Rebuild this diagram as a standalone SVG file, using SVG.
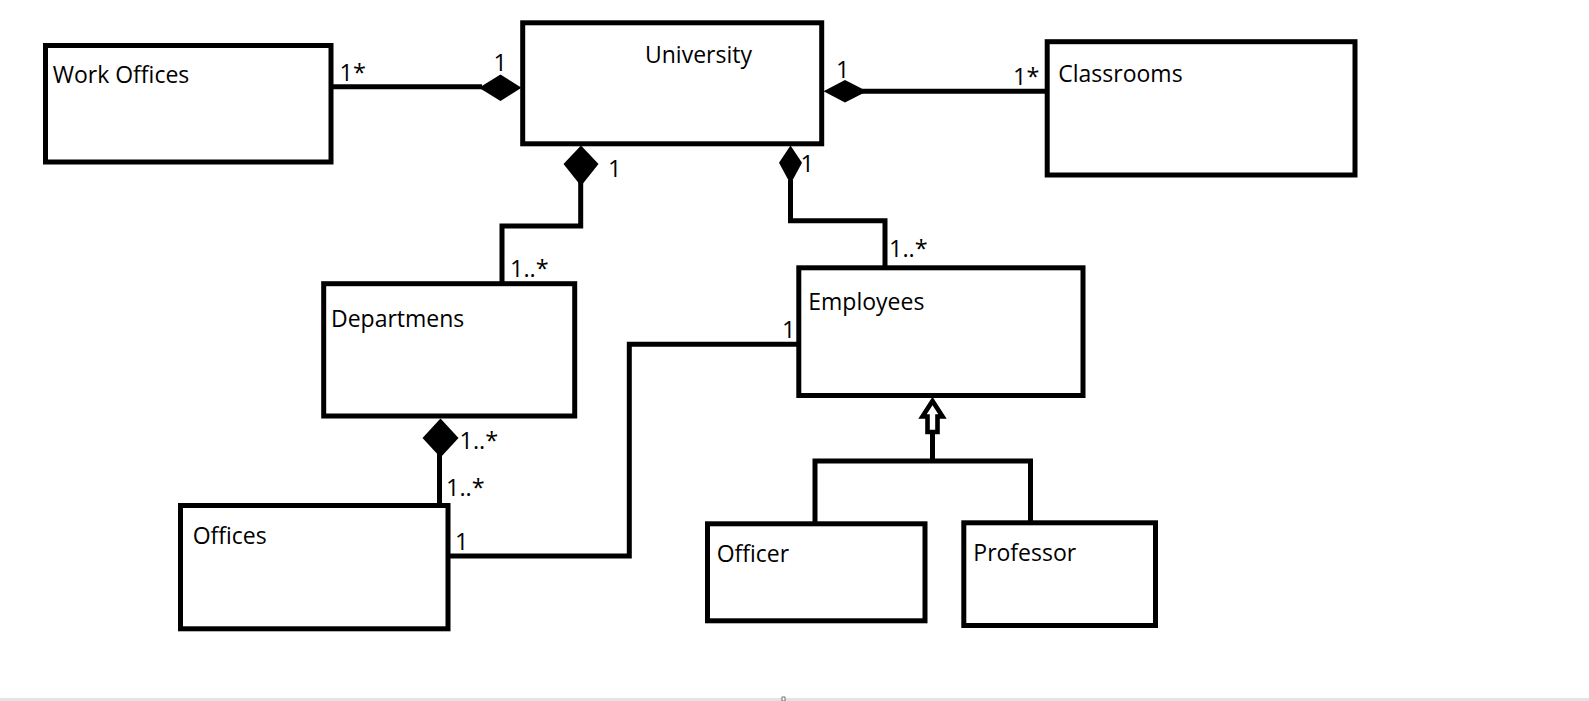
<svg xmlns="http://www.w3.org/2000/svg" width="1589" height="701" viewBox="0 0 1589 701">
<style>
.box{fill:#fff;stroke:#000;stroke-width:5}
.ln{fill:none;stroke:#000;stroke-width:5;stroke-linejoin:miter}
.dia{fill:#000;stroke:none}
.hol{fill:#fff;stroke:#000;stroke-width:4.6;stroke-linejoin:miter}
text{font-family:"Open Sans","Noto Sans",sans-serif;font-size:23px;fill:#000}
.m{font-size:23.5px}
</style>
<rect x="0" y="0" width="1589" height="701" fill="#fff"/>
<g id="connectors">
<line class="ln" x1="331" y1="86.7" x2="482" y2="86.7"/>
<polygon class="dia" points="479,87.8 500.5,74.5 521.5,87.8 500.5,101"/>
<line class="ln" x1="862" y1="91.3" x2="1047" y2="91.3"/>
<polygon class="dia" points="823.5,91.3 845,80 867,91.3 845,102.5"/>
<polyline class="ln" points="580.7,182 580.7,226 502,226 502,283.7"/>
<polygon class="dia" points="581,145.5 598.5,164 581,186 563.5,164"/>
<polyline class="ln" points="790.5,180 790.5,220.7 885,220.7 885,267.8"/>
<polygon class="dia" points="790.5,145.5 802,162.7 790.5,184 779,162.7"/>
<line class="ln" x1="439.5" y1="454" x2="439.5" y2="505.5"/>
<polygon class="dia" points="440.5,418.5 458.5,438 440.5,457.5 422.5,438"/>
<polyline class="ln" points="448,556 629.3,556 629.3,344.3 798.8,344.3"/>
<polyline class="ln" points="815,523.8 815,461 1030.5,461 1030.5,522.8"/>
<line class="ln" x1="932.5" y1="461" x2="932.5" y2="432"/>
<polygon class="hol" points="932.5,401 942.5,416.5 937.5,416.5 937.5,432 927.5,432 927.5,416.5 922.5,416.5"/>
</g>
<g id="labels">
<text class="m" x="339.5" y="80.7">1*</text>
<text class="m" x="493.5" y="71">1</text>
<text class="m" x="836" y="78.3">1</text>
<text class="m" x="1013" y="85">1*</text>
<text class="m" x="608" y="176.7">1</text>
<text class="m" x="800.5" y="171.7">1</text>
<text class="m" x="510" y="276.7">1..*</text>
<text class="m" x="889" y="257.3">1..*</text>
<text class="m" x="782" y="338.3">1</text>
<text class="m" x="459.5" y="449.3">1..*</text>
<text class="m" x="446" y="496">1..*</text>
<text class="m" x="455" y="550">1</text>
</g>
<g id="work-offices">
<rect class="box" x="45.5" y="45.5" width="285.5" height="116.5"/>
<text x="52.7" y="83.3">Work Offices</text>
</g>
<g id="university">
<rect class="box" x="522.7" y="22.8" width="299" height="121"/>
<text x="645" y="63.3">University</text>
</g>
<g id="classrooms">
<rect class="box" x="1047.2" y="41.7" width="307.8" height="133.3"/>
<text x="1058.3" y="81.7">Classrooms</text>
</g>
<g id="departmens">
<rect class="box" x="323.7" y="283.7" width="251" height="132.3"/>
<text x="331" y="326.7">Departmens</text>
</g>
<g id="employees">
<rect class="box" x="798.8" y="267.8" width="284.2" height="127.7"/>
<text x="808.3" y="310">Employees</text>
</g>
<g id="offices">
<rect class="box" x="180.5" y="505.5" width="267.5" height="123.3"/>
<text x="192.7" y="544.3">Offices</text>
</g>
<g id="officer">
<rect class="box" x="707.5" y="523.8" width="217.5" height="97"/>
<text x="716.7" y="561.7">Officer</text>
</g>
<g id="professor">
<rect class="box" x="963.8" y="522.8" width="191.7" height="102.7"/>
<text x="973.3" y="560.7">Professor</text>
</g>
<rect x="0" y="698" width="1589" height="3" fill="#e3e3e3"/>
<rect x="782" y="697" width="3" height="4" fill="#fff" stroke="#555" stroke-width="0.8"/>
</svg>
